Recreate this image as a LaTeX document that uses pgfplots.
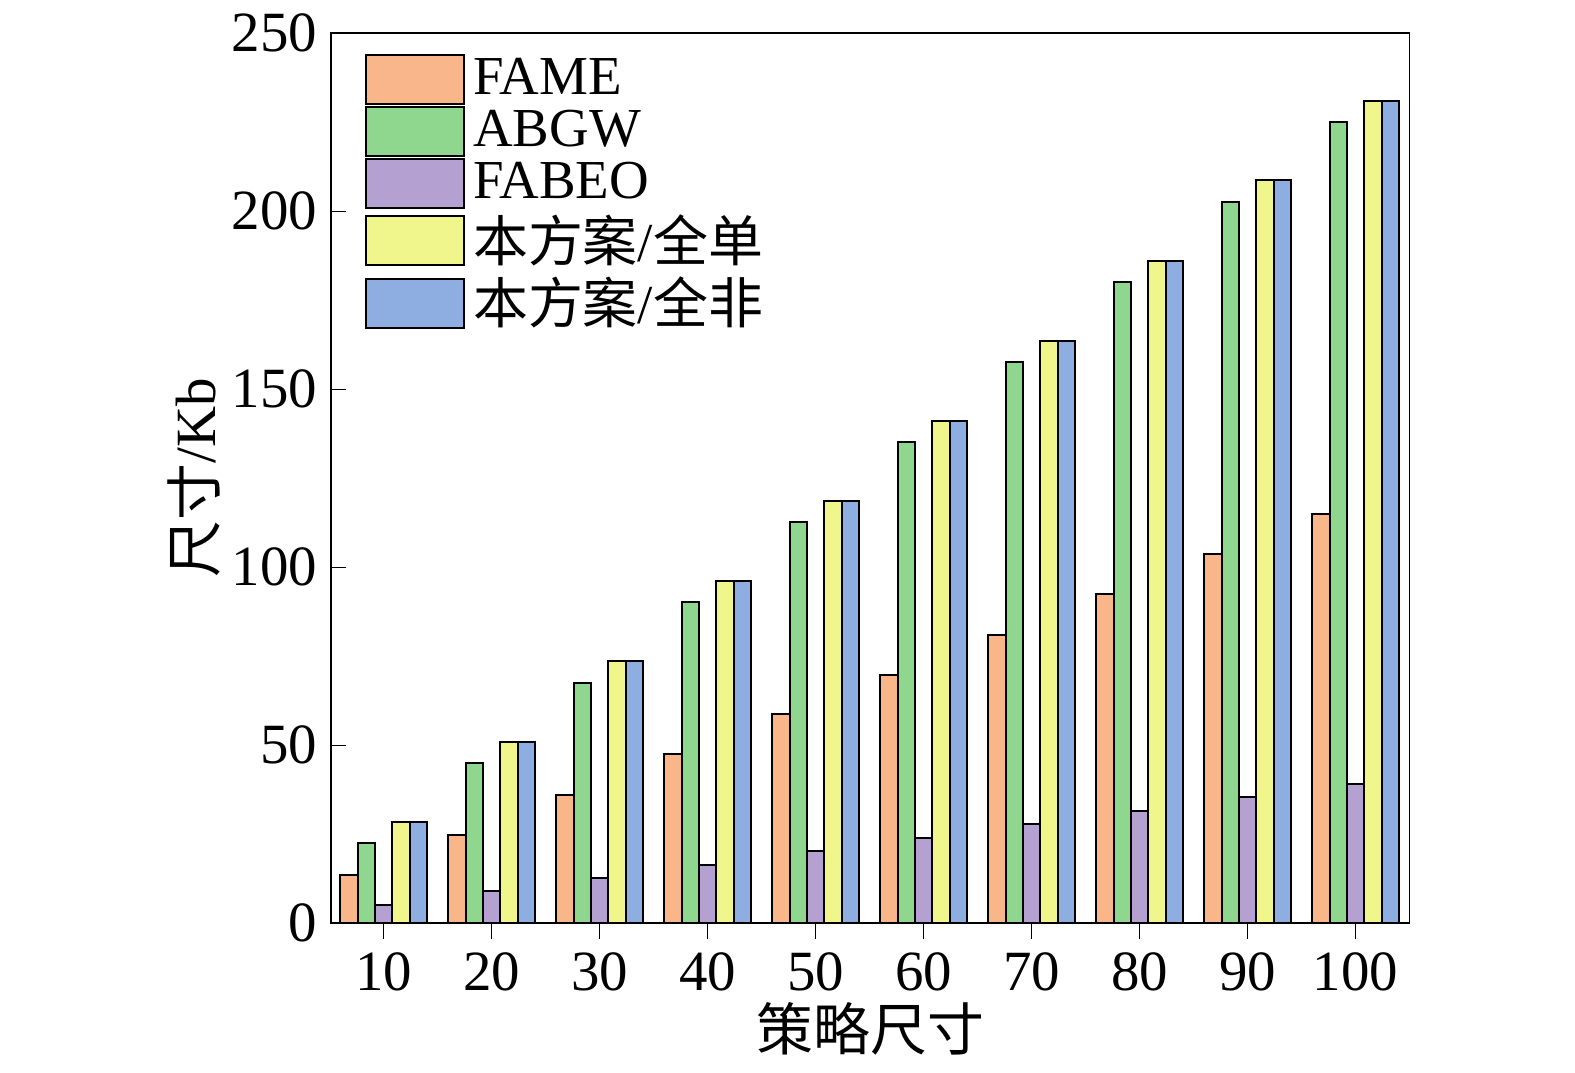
\documentclass[border=0pt]{standalone}
\usepackage{pgfplots}
\pgfplotsset{compat=1.18}
\usepackage{fontspec}
\setmainfont{Liberation Serif}
\newfontfamily\cjk{Noto Sans CJK SC}
\definecolor{cA}{HTML}{F8B68A}
\definecolor{cB}{HTML}{8FD78F}
\definecolor{cC}{HTML}{B5A0D2}
\definecolor{cD}{HTML}{F0F58C}
\definecolor{cE}{HTML}{8EAEE2}
\begin{document}
\begin{tikzpicture}
\useasboundingbox (-84bp,-38bp) rectangle (316bp,234.4bp);
\begin{axis}[at={(0,0)},anchor=south west,
 scale only axis, width=274bp, height=226bp,
 xmin=5.1, xmax=105, ymin=0, ymax=250,
 xtick={10,20,...,100}, ytick={0,50,...,250},
 ybar=0pt, bar width=4.4bp,
 font=\fontsize{14.5}{16}\selectfont,
 /pgf/number format/assume math mode=true,
 tick style={black}, major tick length=4bp,
 xtick pos=bottom, ytick pos=left,
 xlabel={\cjk 策略尺寸}, ylabel={{\cjk 尺寸}/Kb},
 xlabel style={yshift=4bp}, ylabel style={yshift=-4bp},
 legend style={draw=none, fill=none, at={(0.02,0.99)}, anchor=north west, row sep=-1.5bp, font=\fontsize{14}{15}\selectfont},
 legend cell align=left,
 legend image code/.code={\draw[#1,draw=black] (0bp,-6.2bp) rectangle (25bp,6.2bp);},
 every axis plot/.append style={draw=black, line width=0.5pt},
]
\addplot[fill=cA] coordinates {(10,13.5)(20,24.7)(30,36)(40,47.5)(50,58.7)(60,69.7)(70,81)(80,92.4)(90,103.7)(100,114.9)};
\addplot[fill=cB] coordinates {(10,22.5)(20,45)(30,67.4)(40,90.2)(50,112.6)(60,135.1)(70,157.6)(80,180)(90,202.5)(100,225)};
\addplot[fill=cC] coordinates {(10,5)(20,9)(30,12.6)(40,16.3)(50,20.2)(60,23.9)(70,27.8)(80,31.5)(90,35.4)(100,39)};
\addplot[fill=cD] coordinates {(10,28.4)(20,50.8)(30,73.6)(40,96)(50,118.5)(60,141)(70,163.5)(80,186)(90,208.7)(100,231)};
\addplot[fill=cE] coordinates {(10,28.4)(20,50.8)(30,73.6)(40,96)(50,118.5)(60,141)(70,163.5)(80,186)(90,208.7)(100,231)};
\legend{FAME,ABGW,FABEO,{\cjk 本方案}/{\cjk 全单},{\cjk 本方案}/{\cjk 全非}}
\end{axis}
\end{tikzpicture}
\end{document}
